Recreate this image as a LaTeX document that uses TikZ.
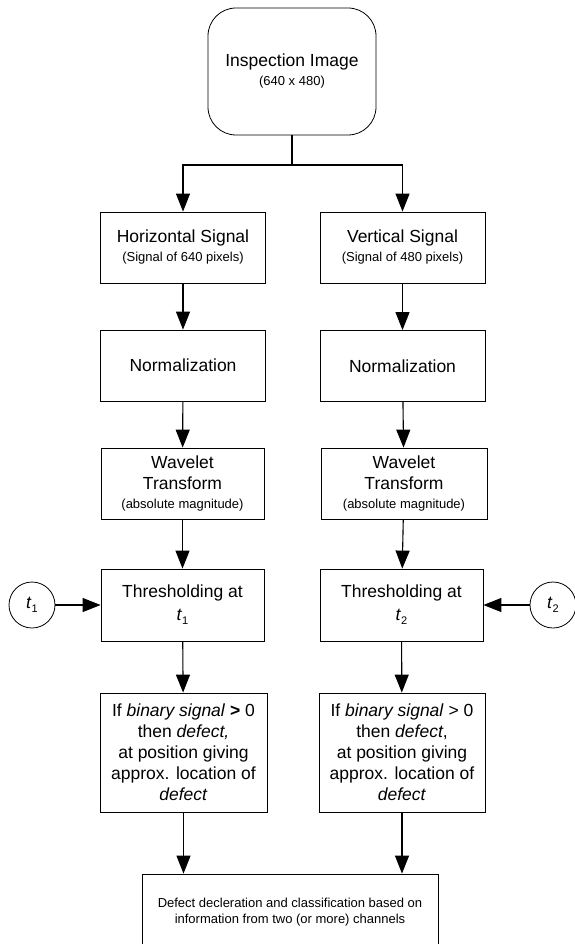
\documentclass[tikz,border=0pt]{standalone}
\usepackage{fontspec}
\setmainfont{Liberation Sans}
\usetikzlibrary{arrows.meta}
\newcommand\tsub[1]{\textit{t}\raisebox{-0.45ex}{\fontsize{11}{11}\selectfont #1}}
\newcommand\smallf{\fontsize{13}{16}\selectfont}
\begin{document}
\begin{tikzpicture}[x=1pt,y=-1pt,
  box/.style={draw, line width=0.8pt, align=center, inner sep=0pt,
    font=\fontsize{17.5}{21}\selectfont},
  std/.style={box, minimum width=165pt, minimum height=71pt},
  tall/.style={box, minimum width=166pt, minimum height=119pt},
  tcirc/.style={draw, circle, line width=0.8pt, minimum size=46pt, inner sep=0pt,
    font=\fontsize{17.5}{21}\selectfont},
  arr/.style={-{Triangle[length=18pt,width=14pt]}, line width=1.1pt},
  link/.style={line width=1.1pt}]
\useasboundingbox (0,0) rectangle (574,944);

\node[box, rounded corners=28pt, minimum width=168pt, minimum height=127pt] (img) at (292,71.5)
  {Inspection Image\\[-2pt]{\smallf (640 x 480)}};

\node[std] (hs) at (183,247.5) {Horizontal Signal\\[-2pt]{\smallf (Signal of 640 pixels)}};
\node[std] (vs) at (402.5,247.5) {Vertical Signal\\[-2pt]{\smallf (Signal of 480 pixels)}};

\node[std] (nl) at (183,365.5) {Normalization};
\node[std] (nr) at (402.5,366) {Normalization};

\node[std, minimum width=163pt] (wl) at (182.5,483.5) {Wavelet\\Transform\\[-2pt]{\smallf (absolute magnitude)}};
\node[std, minimum width=166pt] (wr) at (404,483.5) {Wavelet\\Transform\\[-2pt]{\smallf (absolute magnitude)}};

\node[std, minimum width=163pt, minimum height=72pt] (tl) at (182.5,605) {Thresholding at\\[2pt]\tsub{1}};
\node[std, minimum width=163pt, minimum height=72pt] (tr) at (401.5,605) {Thresholding at\\[2pt]\tsub{2}};

\node[tcirc] (c1) at (32,605) {\tsub{1}};
\node[tcirc] (c2) at (553,605) {\tsub{2}};

\node[tall, minimum width=167pt] (dl) at (183.5,752.5)
  {If \textit{binary signal} \textbf{>} 0\\then \textit{defect,}\\at position giving\\approx. location of\\\textit{defect}};
\node[tall] (dr) at (402,752.5)
  {If \textit{binary signal} > 0\\then \textit{defect},\\at position giving\\approx. location of\\\textit{defect}};

\node[box, minimum width=296pt, minimum height=76pt, font=\smallf] (out) at (290,912)
  {Defect decleration and classification based on\\information from two (or more) channels};

\coordinate (split) at (292,165);
\draw[link] (img.south) -- (split);
\draw[arr] (split) -| (hs.north);
\draw[arr] (split) -| (vs.north);

\draw[arr] (hs) -- (nl);
\draw[arr] (vs) -- (nr);
\draw[arr] (nl) -- (wl);
\draw[arr] (nr) -- (wr);
\draw[arr] (wl) -- (tl);
\draw[arr] (wr) -- (tr);
\draw[arr] (tl) -- (dl);
\draw[arr] (tr) -- (dr);
\draw[arr] (c1) -- (tl);
\draw[arr] (c2) -- (tr);
\draw[arr] (dl.south) -- (dl.south |- out.north);
\draw[arr] (dr.south) -- (dr.south |- out.north);
\end{tikzpicture}
\end{document}
